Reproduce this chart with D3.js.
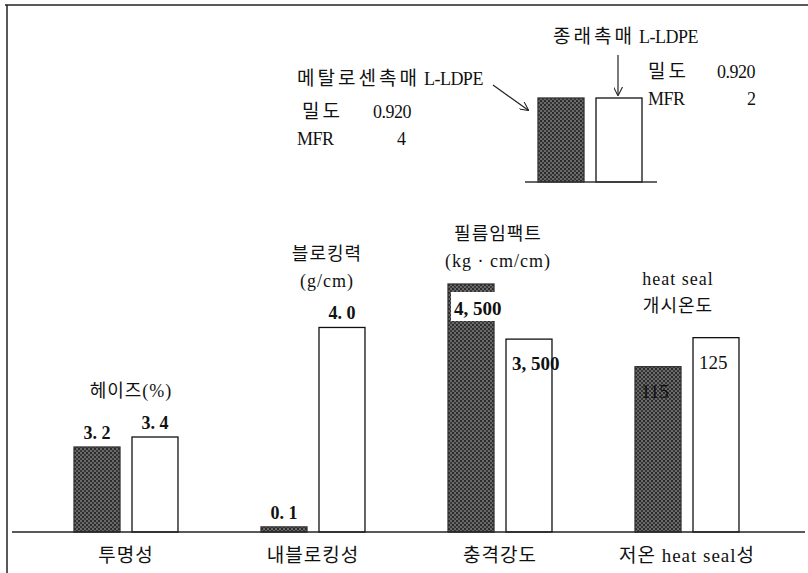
<!DOCTYPE html>
<html lang="ko">
  <head>
    <meta charset="utf-8">
    <title>L-LDPE 물성 비교</title>
    <script src="https://cdn.jsdelivr.net/npm/d3@7"></script>
    <style>
      body { margin: 0; background: #fff; }
    </style>
  </head>
  <body>
    <div id="chart"></div>
    <script>
      // ---------------- data ----------------
      var categories = ['투명성', '내블로킹성', '충격강도', '저온 heat seal성'];
      var series = ['메탈로센촉매 L-LDPE', '종래촉매 L-LDPE'];
      var metallocene = [3.2, 0.1, 4500, 115];
      var conventional = [3.4, 4.0, 3500, 125];
      var metalloceneLabels = ['3. 2', '0. 1', '4, 500', '115'];
      var conventionalLabels = ['3. 4', '4. 0', '3, 500', '125'];
      var groupTitles = [['헤이즈(%)'], ['블로킹력', '(g/cm)'], ['필름임팩트', '(kg · cm/cm)'], ['heat seal', '개시온도']];
      // each property is drawn on its own scale (no common axis in the figure)
      var yDomains = [[1.5, 6.46], [0, 4.85], [0, 4500], [58, 143.5]];
      var legendProps = [['밀도', '0.920'], ['MFR', '4']];
      var legendProps2 = [['밀도', '0.920'], ['MFR', '2']];

      // ---------------- layout ----------------
      var width = 808, height = 573;
      var base = 532, topY = 284;
      var labelInside = [false, false, true, true];
      var titleGap = [40, 40, 17, 26];
      var titleDx = [5, 14, -2, -9];
      var FONT = '"Liberation Serif", "Times New Roman", "Noto Sans CJK KR", serif';

      var svg = d3.select('#chart').append('svg')
                  .attr('width', width)
                  .attr('height', height)
                  .attr('font-family', FONT);

      var defs = svg.append('defs');
      var pat = defs.append('pattern')
                  .attr('id', 'dark')
                  .attr('patternUnits', 'userSpaceOnUse')
                  .attr('width', 4).attr('height', 4);
      pat.append('rect').attr('width', 4).attr('height', 4).attr('fill', '#6a6a6a');
      pat.append('rect').attr('width', 2).attr('height', 2).attr('fill', '#2a2a2a');
      pat.append('rect').attr('x', 2).attr('y', 2).attr('width', 2).attr('height', 2).attr('fill', '#363636');

      defs.append('marker')
          .attr('id', 'arrow')
          .attr('viewBox', '0 0 10 10')
          .attr('refX', 9).attr('refY', 5)
          .attr('markerWidth', 9).attr('markerHeight', 9)
          .attr('markerUnits', 'userSpaceOnUse')
          .attr('orient', 'auto')
          .append('path')
          .attr('d', 'M0,0 L10,5 L0,10')
          .attr('fill', 'none')
          .attr('stroke', '#222')
          .attr('stroke-width', 1.2);

      // frame (top and left edges only, like the scan)
      svg.append('line').attr('x1', 5).attr('x2', 808).attr('y1', 5).attr('y2', 5)
         .attr('stroke', '#222').attr('stroke-width', 1.5);
      svg.append('line').attr('x1', 7).attr('x2', 7).attr('y1', 5).attr('y2', 573)
         .attr('stroke', '#222').attr('stroke-width', 1.5);

      //-------------------------SCALES-------------------------|
      var x0 = d3.scaleBand()
                 .domain(categories)
                 .range([32.5, 780.5])
                 .paddingInner(0.444)
                 .paddingOuter(0.222);

      var x1 = d3.scaleBand()
                 .domain(series)
                 .range([0, x0.bandwidth()])
                 .paddingInner(0.207);

      var yScales = yDomains.map(function(d) {
        return d3.scaleLinear().domain(d).range([base, topY]);
      });

      var rows = categories.map(function(c, i) {
        return [
          {cat: c, i: i, s: series[0], v: metallocene[i], label: metalloceneLabels[i]},
          {cat: c, i: i, s: series[1], v: conventional[i], label: conventionalLabels[i]}
        ];
      });

      //-------------------------BARS-------------------------|
      var groups = svg.selectAll('g.grp')
                      .data(rows)
                      .enter().append('g')
                      .attr('class', 'grp')
                      .attr('transform', function(d) { return 'translate(' + x0(d[0].cat) + ',0)'; });

      groups.selectAll('rect.bar')
            .data(function(d) { return d; })
            .enter().append('rect')
            .attr('class', 'bar')
            .attr('x', function(d) { return x1(d.s); })
            .attr('y', function(d) { return yScales[d.i](d.v); })
            .attr('width', x1.bandwidth())
            .attr('height', function(d) { return base - yScales[d.i](d.v); })
            .attr('fill', function(d) { return d.s === series[0] ? 'url(#dark)' : '#fff'; })
            .attr('stroke', function(d) { return d.s === series[0] ? '#333' : '#111'; })
            .attr('stroke-width', 1.3);

      // white patch behind label drawn inside the dark impact bar
      groups.filter(function(d) { return d[0].i === 2; })
            .append('rect')
            .attr('x', function(d) { return x1(d[0].s) + 3; })
            .attr('y', function(d) { return yScales[2](d[0].v) + 8; })
            .attr('width', x1.bandwidth() - 1)
            .attr('height', 29)
            .attr('fill', '#fff');

      groups.selectAll('text.val')
            .data(function(d) { return d; })
            .enter().append('text')
            .attr('class', 'val')
            .attr('fill', '#111')
            .attr('font-size', function(d) { return labelInside[d.i] ? '19px' : '18px'; })
            .attr('font-weight', function(d) { return d.i === 3 ? 'normal' : 'bold'; })
            .attr('text-anchor', function(d) { return labelInside[d.i] ? 'start' : 'middle'; })
            .attr('x', function(d) {
              return labelInside[d.i] ? x1(d.s) + 6 : x1(d.s) + x1.bandwidth() / 2;
            })
            .attr('y', function(d) {
              var t = yScales[d.i](d.v);
              return labelInside[d.i] ? t + 31 : t - 8;
            })
            .text(function(d) { return d.label; });

      // group titles
      groups.each(function(d, gi) {
        var g = d3.select(this);
        var top = d3.min(d, function(r) { return yScales[gi](r.v); });
        var lines = groupTitles[gi];
        var lastY = top - titleGap[gi];
        lines.forEach(function(line, li) {
          g.append('text')
           .attr('fill', '#111')
           .attr('font-size', '18px')
           .attr('letter-spacing', '1px')
           .attr('text-anchor', 'middle')
           .attr('x', x0.bandwidth() / 2 + titleDx[gi])
           .attr('y', lastY - (lines.length - 1 - li) * 27)
           .text(line);
        });
      });

      // baseline
      svg.append('line')
         .attr('x1', 12).attr('x2', 805)
         .attr('y1', base).attr('y2', base)
         .attr('stroke', '#222').attr('stroke-width', 1.5);

      // category axis
      var xAxis = d3.axisBottom(x0).tickSize(0).tickPadding(0);
      var axisG = svg.append('g')
                     .attr('transform', 'translate(0,' + base + ')')
                     .call(xAxis)
                     .attr('font-family', FONT)
                     .attr('font-size', '19px');
      axisG.select('.domain').remove();
      axisG.selectAll('text')
           .attr('fill', '#111')
           .attr('letter-spacing', '1px')
           .attr('dy', null)
           .attr('y', 30);

      //-------------------------LEGEND-------------------------|
      var legX = d3.scaleBand().domain(series).range([538, 642]).paddingInner(0.207);
      var legTop = 98, legBase = 182;

      svg.selectAll('rect.leg')
         .data(series)
         .enter().append('rect')
         .attr('class', 'leg')
         .attr('x', function(d) { return legX(d); })
         .attr('y', legTop)
         .attr('width', legX.bandwidth())
         .attr('height', legBase - legTop)
         .attr('fill', function(d, i) { return i === 0 ? 'url(#dark)' : '#fff'; })
         .attr('stroke', function(d, i) { return i === 0 ? '#333' : '#111'; })
         .attr('stroke-width', 1.3);

      svg.append('line')
         .attr('x1', 525).attr('x2', 657)
         .attr('y1', legBase).attr('y2', legBase)
         .attr('stroke', '#333').attr('stroke-width', 1.5);

      // legend text: hangul runs are set wider, latin runs tighter (as in the scan)
      function legText(x, y, s) {
        var t = svg.append('text').attr('fill', '#111').attr('font-size', '18px')
                   .attr('x', x).attr('y', y);
        s.split(/([가-힣]+)/).forEach(function(part) {
          if (!part) return;
          var hangul = /[가-힣]/.test(part);
          t.append('tspan')
           .attr('font-size', hangul ? '19px' : '18px')
           .attr('letter-spacing', hangul ? '3px' : '-0.5px')
           .text(part);
        });
      }
      legText(297, 85, series[0]);
      legText(553, 43, series[1]);

      legendProps.forEach(function(p, i) {
        legText(i === 0 ? 302 : 297, 118 + i * 27, p[0]);
        legText(i === 0 ? 373 : 397, 118 + i * 27, p[1]);
      });
      legendProps2.forEach(function(p, i) {
        legText(648, 78 + i * 27, p[0]);
        legText(i === 0 ? 717 : 747, 78 + i * 27, p[1]);
      });

      // arrows to legend bars
      svg.append('line')
         .attr('x1', 493).attr('y1', 85).attr('x2', 528).attr('y2', 110)
         .attr('stroke', '#222').attr('stroke-width', 1.2)
         .attr('marker-end', 'url(#arrow)');
      svg.append('line')
         .attr('x1', 618).attr('y1', 55).attr('x2', 618).attr('y2', 95)
         .attr('stroke', '#222').attr('stroke-width', 1.2)
         .attr('marker-end', 'url(#arrow)');
    </script>
  </body>
</html>
